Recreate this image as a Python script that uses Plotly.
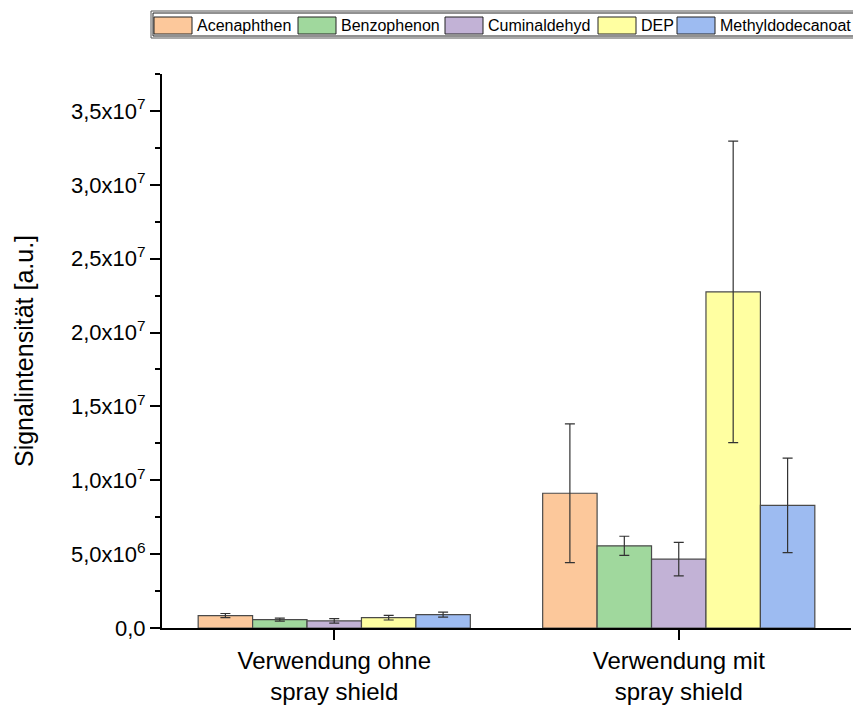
import plotly.graph_objects as go

categories = ["Verwendung ohne<br>spray shield", "Verwendung mit<br>spray shield"]
series_names = ["Acenaphthen", "Benzophenon", "Cuminaldehyd", "DEP", "Methyldodecanoat"]
acenaphthen = [8.4e5, 9.12e6]
benzophenon = [5.7e5, 5.56e6]
cuminaldehyd = [4.8e5, 4.66e6]
dep = [7.0e5, 2.275e7]
methyldodecanoat = [9.1e5, 8.30e6]
acenaphthen_err = [1.4e5, 4.7e6]
benzophenon_err = [1.0e5, 0.65e6]
cuminaldehyd_err = [1.5e5, 1.13e6]
dep_err = [1.6e5, 1.02e7]
methyldodecanoat_err = [1.7e5, 3.2e6]
colors = ["#FCC89B", "#A0D89D", "#C2B2D6", "#FFFFA1", "#9DBBF1"]

y_tickvals = [0, 5e6, 1e7, 1.5e7, 2e7, 2.5e7, 3e7, 3.5e7]
y_ticktext = ["0,0", "5,0x10<sup>6</sup>", "1,0x10<sup>7</sup>", "1,5x10<sup>7</sup>",
              "2,0x10<sup>7</sup>", "2,5x10<sup>7</sup>", "3,0x10<sup>7</sup>", "3,5x10<sup>7</sup>"]

values = [acenaphthen, benzophenon, cuminaldehyd, dep, methyldodecanoat]
errors = [acenaphthen_err, benzophenon_err, cuminaldehyd_err, dep_err, methyldodecanoat_err]

FONT = "Liberation Sans, Arial, sans-serif"
L, R, T, B = 162, 2, 74, 78
W, H = 853, 706
PW, PH = W - L - R, H - T - B

def px2x(px):
    return (px - L) / PW

def px2y(py):
    return (H - B - py) / PH

fig = go.Figure()
for name, vals, errs, col in zip(series_names, values, errors, colors):
    fig.add_trace(go.Bar(
        x=categories, y=vals, name=name, showlegend=False,
        marker=dict(color=col, line=dict(color="#4a4a4a", width=1.2)),
        error_y=dict(type="data", array=errs, visible=True, color="#333333",
                     thickness=1.2, width=5),
    ))

# legend drawn as frame + swatches + labels
shapes = []
annotations = []
shapes.append(dict(type="rect", xref="paper", yref="paper",
                   x0=px2x(151), x1=px2x(870), y0=px2y(38), y1=px2y(11),
                   line=dict(color="#555555", width=1), fillcolor="rgba(0,0,0,0)"))
shapes.append(dict(type="rect", xref="paper", yref="paper",
                   x0=px2x(153), x1=px2x(870), y0=px2y(36), y1=px2y(13),
                   line=dict(color="#222222", width=1), fillcolor="rgba(0,0,0,0)"))
legend_x = [154, 298, 445, 598, 677]
for name, col, lx in zip(series_names, colors, legend_x):
    shapes.append(dict(type="rect", xref="paper", yref="paper",
                       x0=px2x(lx), x1=px2x(lx + 38), y0=px2y(34), y1=px2y(17),
                       line=dict(color="#222222", width=1), fillcolor=col))
    annotations.append(dict(text=name, xref="paper", yref="paper",
                            x=px2x(lx + 41), y=px2y(25.5), xanchor="left", yanchor="middle",
                            showarrow=False, font=dict(family=FONT, size=16, color="#000000")))

fig.update_layout(
    width=W, height=H,
    margin=dict(l=L, r=R, t=T, b=B),
    paper_bgcolor="white", plot_bgcolor="white",
    barmode="group", bargap=0.21, bargroupgap=0,
    font=dict(family=FONT, color="#000000"),
    shapes=shapes, annotations=annotations,
    xaxis=dict(
        range=[-0.5, 1.5], showline=True, linecolor="#000000", linewidth=2,
        ticks="outside", ticklen=10, tickwidth=2, tickcolor="#000000",
        tickfont=dict(size=24, family=FONT), showgrid=False, zeroline=False,
    ),
    yaxis=dict(
        range=[0, 3.75e7], showline=True, linecolor="#000000", linewidth=2,
        ticks="outside", ticklen=10, tickwidth=2, tickcolor="#000000",
        tickvals=y_tickvals, ticktext=y_ticktext,
        tickfont=dict(size=22, family=FONT), showgrid=False, zeroline=False,
        minor=dict(dtick=2.5e6, ticks="outside", ticklen=5, tickwidth=2, tickcolor="#000000"),
        title=dict(text="Signalintensität [a.u.]", font=dict(size=25, family=FONT), standoff=30),
    ),
)

fig.write_html("out.html")
